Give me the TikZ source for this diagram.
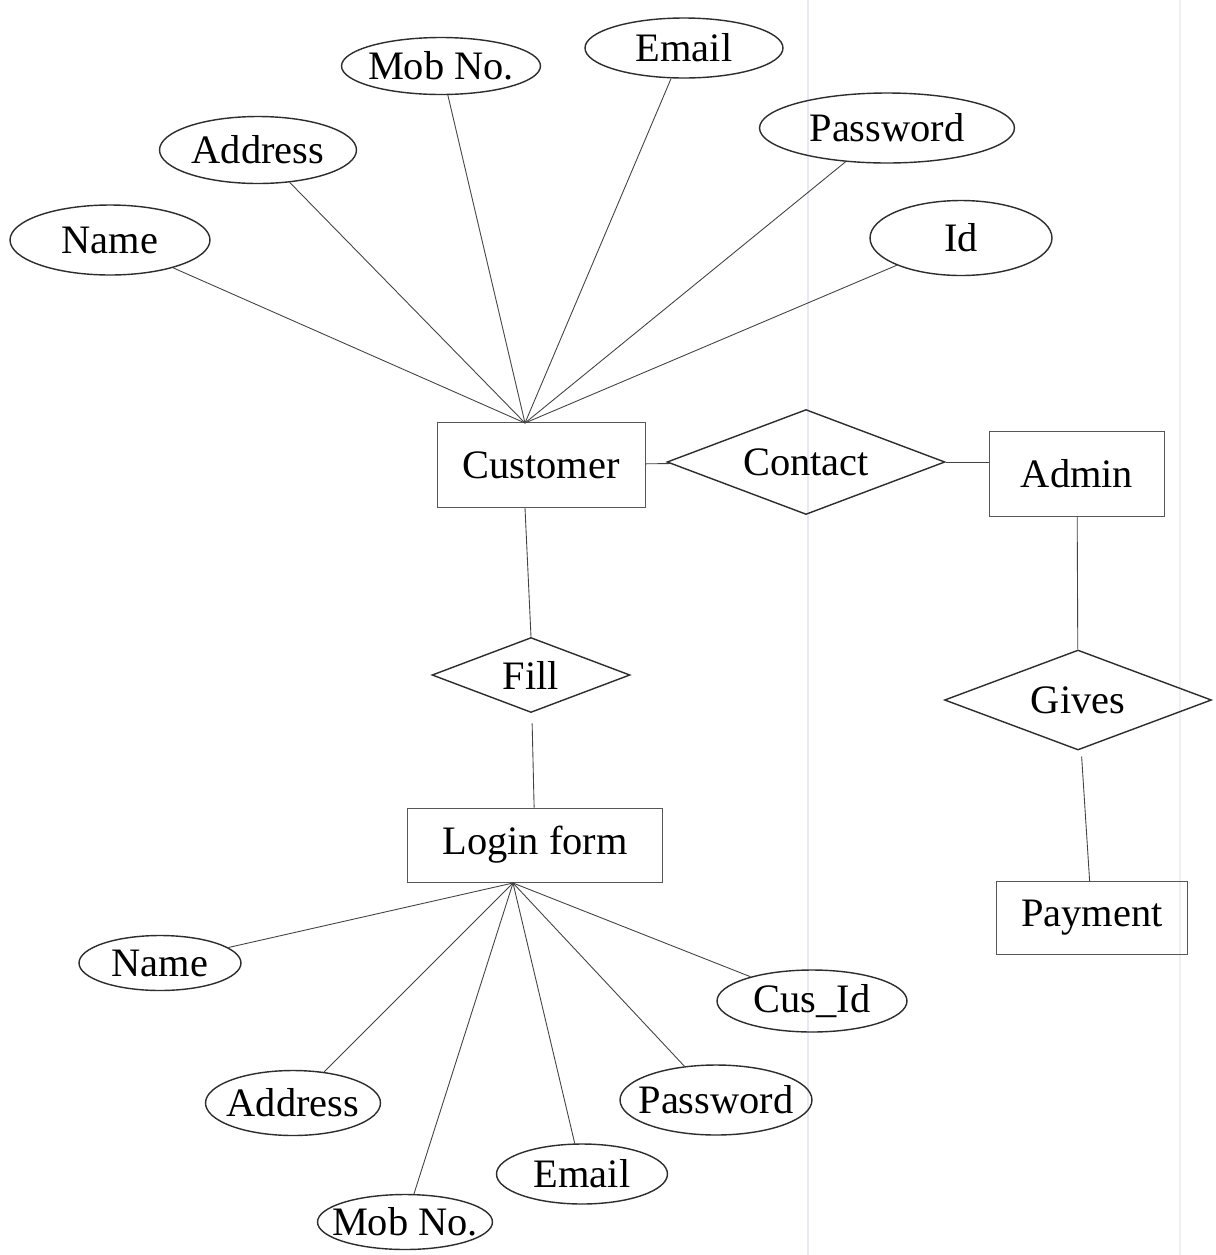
\documentclass[tikz,border=0pt]{standalone}
\usepackage{fontspec}
\setmainfont{Liberation Serif}
\usepackage{tikz}
\usetikzlibrary{shapes.geometric}
\definecolor{inkline}{RGB}{45, 45, 45}
\definecolor{scanfold}{RGB}{232, 234, 240}

\tikzset{
  attr/.style={ellipse, draw=inkline, thick, inner sep=0pt, label=center:{#1}},
  entity/.style={rectangle, draw=inkline!80, inner sep=0pt},
  rel/.style={diamond, aspect=2.65, draw=inkline, thick, inner sep=0pt},
  link/.style={draw=inkline!90, line width=0.5pt}
}

\begin{document}
\begin{tikzpicture}[x=0.02cm, y=-0.02cm, font=\fontsize{23}{27}\selectfont]
    \useasboundingbox[fill=white] (0,0) rectangle (1215,1255);
    \draw[scanfold, line width=1.2pt] (808,0) -- (808,1255);
    \draw[scanfold!70, line width=1pt] (1180,0) -- (1180,1255);
    % entities and relations
    \node[entity, minimum width=4.16cm, minimum height=1.7cm] (cust) at (541,465) {Customer};
    \node[rel, minimum width=5.56cm, minimum height=2.1cm] (contact) at (806,462) {Contact};
    \node[entity, minimum width=3.5cm, minimum height=1.7cm] (admin) at (1077,474) {Admin};
    \node[rel, minimum width=3.96cm, minimum height=1.5cm] (fill) at (531,675) {Fill};
    \node[rel, minimum width=5.34cm, minimum height=2cm] (gives) at (1078,700) {Gives};
    \node[entity, minimum width=5.1cm, minimum height=1.48cm] (login) at (535,845) {Login form};
    \node[entity, minimum width=3.82cm, minimum height=1.46cm] (payment) at (1092,918) {Payment};
    % customer attributes
    \node[attr=Name, minimum width=4cm, minimum height=1.4cm] (cname) at (110,240) {};
    \node[attr=Address, minimum width=3.94cm, minimum height=1.34cm] (caddr) at (258,150) {};
    \node[attr=Mob No., minimum width=3.98cm, minimum height=1.14cm] (cmob) at (441,66) {};
    \node[attr=Email, minimum width=3.96cm, minimum height=1.2cm] (cmail) at (684,48) {};
    \node[attr=Password, minimum width=5.1cm, minimum height=1.4cm] (cpass) at (887,128) {};
    \node[attr=Id, minimum width=3.64cm, minimum height=1.5cm] (cid) at (961,238) {};
    % login form attributes
    \node[attr=Name, minimum width=3.24cm, minimum height=1.1cm] (lname) at (160,963) {};
    \node[attr=Cus\_Id, minimum width=3.8cm, minimum height=1.24cm] (lcusid) at (812,1001) {};
    \node[attr=Address, minimum width=3.5cm, minimum height=1.3cm] (laddr) at (293,1103) {};
    \node[attr=Password, minimum width=3.84cm, minimum height=1.4cm] (lpass) at (716,1100) {};
    \node[attr=Email, minimum width=3.42cm, minimum height=1.2cm] (lmail) at (582,1174) {};
    \node[attr=Mob No., minimum width=3.5cm, minimum height=1.1cm] (lmob) at (405,1222) {};
    \coordinate (custtop) at (525,423);
    \coordinate (loginbot) at (513,883);
    \foreach \a in {cname,caddr,cmob,cmail,cpass,cid}
      \draw[link] (\a) -- (custtop);
    \foreach \a in {lname,laddr,lmob,lmail,lpass,lcusid}
      \draw[link] (\a) -- (loginbot);
    \draw[link] (cust) -- (contact);
    \draw[link] (contact.east) -- (contact.east -| admin.west);
    \draw[link] (cust.south -| custtop) -- (fill.north);
    \draw[link, shorten <=6pt] (fill) -- (login);
    \draw[link] (admin) -- (gives);
    \draw[link, shorten <=4pt] (gives) -- (payment);
  \end{tikzpicture}
\end{document}
